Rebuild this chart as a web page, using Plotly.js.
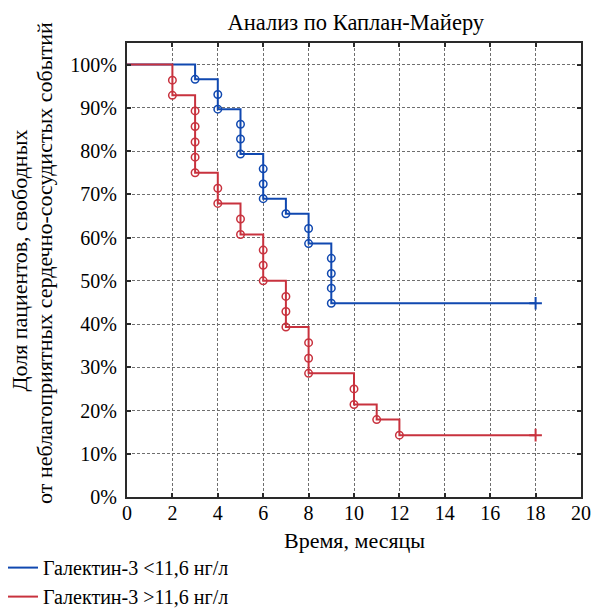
<!DOCTYPE html>
<html>
<head>
<meta charset="utf-8">
<script src="https://cdn.plot.ly/plotly-3.0.1.min.js"></script>
<style>html,body{margin:0;padding:0;background:#fff;}#chart{width:595px;height:609px;}</style>
</head>
<body>
<div id="chart"></div>
<script>
// Step curve (Kaplan-Meier) for each group
var seriesNames = ["Галектин-3 <11,6 нг/л", "Галектин-3 >11,6 нг/л"];
var lowTimes = [0, 3, 4, 5, 6, 7, 8, 9, 18];
var lowSurv  = [100, 96.6, 89.7, 79.3, 69.0, 65.5, 58.6, 44.8, 44.8];
var highTimes = [0, 2, 3, 4, 5, 6, 7, 8, 10, 11, 12, 18];
var highSurv  = [100, 92.9, 75.0, 67.9, 60.7, 50.0, 39.3, 28.6, 21.4, 17.9, 14.3, 14.3];
// Event markers (open circles)
var lowEventTimes = [3, 4, 4, 5, 5, 5, 6, 6, 6, 7, 8, 8, 9, 9, 9, 9];
var lowEventSurv  = [96.6, 93.1, 89.7, 86.2, 82.8, 79.3, 75.9, 72.4, 69.0, 65.5, 62.1, 58.6, 55.2, 51.7, 48.3, 44.8];
var highEventTimes = [2, 2, 3, 3, 3, 3, 3, 4, 4, 5, 5, 6, 6, 6, 7, 7, 7, 8, 8, 8, 10, 10, 11, 12];
var highEventSurv  = [96.4, 92.9, 89.3, 85.7, 82.1, 78.6, 75.0, 71.4, 67.9, 64.3, 60.7, 57.1, 53.6, 50.0, 46.4, 42.9, 39.3, 35.7, 32.1, 28.6, 25.0, 21.4, 17.9, 14.3];
// Censored at end
var lowCensTimes = [18];
var lowCensSurv = [44.8];
var highCensTimes = [18];
var highCensSurv = [14.3];
var xTicks = [0, 2, 4, 6, 8, 10, 12, 14, 16, 18, 20];
var yTicks = [0, 10, 20, 30, 40, 50, 60, 70, 80, 90, 100];
var titleText = 'Анализ по Каплан-Майеру';
var xTitleText = 'Время, месяцы';
var yTitleLines = ['Доля пациентов, свободных', 'от неблагоприятных сердечно-сосудистых событий'];

var blue = '#1048b0';
var red = '#c8323e';

function stepTrace(x, y, name, color) {
  return {x: x, y: y, name: name, type: 'scatter', mode: 'lines',
          line: {shape: 'hv', color: color, width: 2}, hoverinfo: 'skip'};
}
function markTrace(x, y, color, sym, size, lw) {
  return {x: x, y: y, type: 'scatter', mode: 'markers', showlegend: false,
          marker: {symbol: sym, size: size, color: color, line: {color: color, width: lw}}, hoverinfo: 'skip'};
}

var data = [
  stepTrace(lowTimes, lowSurv, seriesNames[0], blue),
  markTrace(lowEventTimes, lowEventSurv, blue, 'circle-open', 7.5, 1.5),
  markTrace(lowCensTimes, lowCensSurv, blue, 'cross-thin-open', 9, 2),
  stepTrace(highTimes, highSurv, seriesNames[1], red),
  markTrace(highEventTimes, highEventSurv, red, 'circle-open', 7.5, 1.5),
  markTrace(highCensTimes, highCensSurv, red, 'cross-thin-open', 9, 2)
];

var fam = 'Liberation Serif, Times New Roman, serif';

// y-title line positions (paper x of each rotated line centre)
var yTitleX = [-0.2365, -0.1835];

var layout = {
  width: 595, height: 609,
  margin: {l: 127, r: 14, t: 43, b: 112, pad: 0, autoexpand: false},
  paper_bgcolor: '#fff', plot_bgcolor: '#fff',
  font: {family: fam, size: 20, color: '#000'},
  title: {text: titleText, font: {family: fam, size: 22.5, color: '#000'},
          xref: 'container', yref: 'container',
          x: 0.598, xanchor: 'center', y: 0.964, yanchor: 'middle'},
  xaxis: {
    range: [0, 20], tickvals: xTicks, ticktext: xTicks.map(String),
    showgrid: true, gridcolor: '#6e6e6e', gridwidth: 1, griddash: '3px,2px',
    zeroline: false, showline: true, linecolor: '#2a2a2a', linewidth: 2, mirror: 'ticks',
    ticks: 'inside', ticklen: 4, tickwidth: 2, tickcolor: '#2a2a2a',
    tickfont: {family: fam, size: 20, color: '#000'},
    ticklabelstandoff: -3,
    automargin: false, fixedrange: true
  },
  yaxis: {
    range: [0, 105], tickvals: yTicks, ticktext: yTicks.map(function(v){return v + '%';}),
    showgrid: true, gridcolor: '#6e6e6e', gridwidth: 1, griddash: '3px,2px',
    zeroline: false, showline: true, linecolor: '#2a2a2a', linewidth: 2, mirror: 'ticks',
    ticks: 'inside', ticklen: 4, tickwidth: 2, tickcolor: '#2a2a2a',
    tickfont: {family: fam, size: 20, color: '#000'},
    ticklabelstandoff: 4,
    automargin: false, fixedrange: true
  },
  annotations: [
    {text: xTitleText, xref: 'paper', yref: 'paper', x: 0.5, y: -0.095,
     xanchor: 'center', yanchor: 'middle', showarrow: false,
     font: {family: fam, size: 22, color: '#000'}},
    {text: yTitleLines[0], xref: 'paper', yref: 'paper', x: yTitleX[0], y: 0.52,
     xanchor: 'center', yanchor: 'middle', showarrow: false, textangle: -90,
     font: {family: fam, size: 22, color: '#000'}},
    {text: yTitleLines[1], xref: 'paper', yref: 'paper', x: yTitleX[1], y: 0.515,
     xanchor: 'center', yanchor: 'middle', showarrow: false, textangle: -90,
     font: {family: fam, size: 22, color: '#000'}}
  ],
  showlegend: true,
  legend: {
    xref: 'container', yref: 'container', x: 0.005, y: 0.1, xanchor: 'left', yanchor: 'top',
    orientation: 'v', bgcolor: 'rgba(0,0,0,0)', borderwidth: 0,
    font: {family: fam, size: 20, color: '#000'}, tracegroupgap: 0
  }
};

Plotly.newPlot('chart', data, layout, {displayModeBar: false, staticPlot: true});
</script>
</body>
</html>
